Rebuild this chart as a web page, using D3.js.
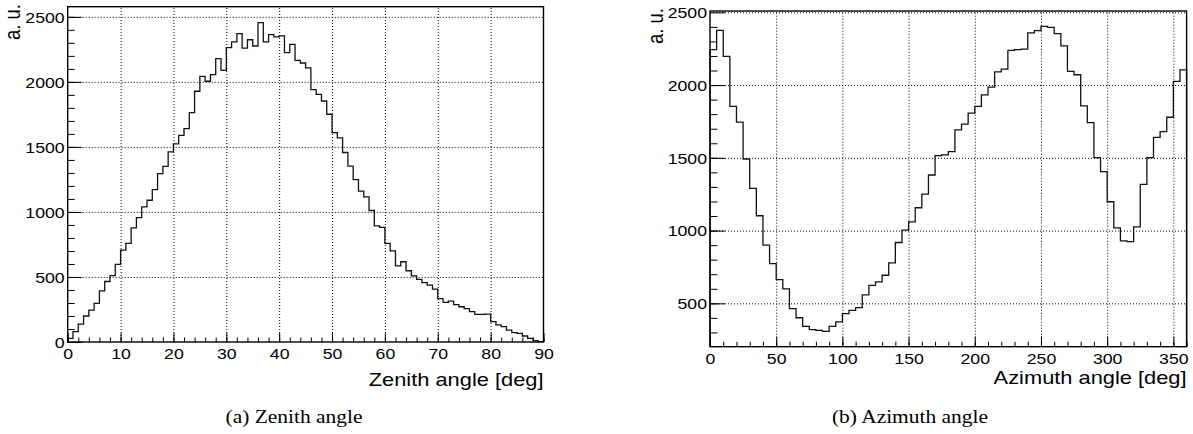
<!DOCTYPE html>
<html>
<head>
<meta charset="utf-8">
<script src="https://cdn.jsdelivr.net/npm/d3@7"></script>
<style>
  body { margin: 0; background: #fff; }
  svg { display: block; }
</style>
</head>
<body>
<script>
// histogram contents
var zenithCounts = [28, 80, 137, 200, 245, 297, 393, 465, 510, 597,
  707, 758, 878, 957, 1039, 1090, 1172, 1295, 1350, 1462,
  1524, 1588, 1641, 1764, 1928, 2043, 2005, 2056, 2179, 2089,
  2263, 2307, 2371, 2260, 2324, 2276, 2455, 2307, 2364, 2346,
  2353, 2225, 2289, 2166, 2145, 2107, 1940, 1904, 1853, 1751,
  1610, 1569, 1457, 1352, 1249, 1160, 1116, 1011, 893, 881,
  758, 701, 586, 617, 548, 509, 481, 456, 438, 407,
  333, 305, 315, 287, 271, 256, 233, 212, 212, 215,
  156, 131, 118, 92, 72, 67, 46, 28, 10, 3];
var azimuthCounts = [2243, 2376, 2197, 1853, 1745, 1492, 1290, 1102, 900, 773,
  663, 599, 463, 401, 342, 319, 314, 307, 342, 372,
  429, 452, 470, 558, 624, 647, 693, 778, 918, 1003,
  1060, 1157, 1251, 1382, 1515, 1520, 1543, 1692, 1731, 1807,
  1853, 1933, 1986, 2091, 2110, 2238, 2243, 2247, 2358, 2374,
  2404, 2397, 2353, 2270, 2094, 2071, 1857, 1742, 1501, 1405,
  1198, 1019, 929, 924, 1026, 1318, 1501, 1641, 1680, 1779,
  2025, 2105];
var zenithXTicks = [0, 10, 20, 30, 40, 50, 60, 70, 80, 90];
var zenithYTicks = [0, 500, 1000, 1500, 2000, 2500];
var azimuthXTicks = [0, 50, 100, 150, 200, 250, 300, 350];
var azimuthYTicks = [500, 1000, 1500, 2000, 2500];

var width = 1193,
    height = 434;
var stretch = 1.18;
var sans = 'Liberation Sans, Arial, sans-serif';

var svg = d3.select('body')
  .append('svg')
  .attr('width', width)
  .attr('height', height);

function widen(sel, k) {
  sel.each(function() {
    var len = this.getComputedTextLength();
    d3.select(this).attr('textLength', len * k).attr('lengthAdjust', 'spacingAndGlyphs');
  });
}

function drawHist(opt) {
  var x = d3.scaleLinear().domain(opt.xDomain).range(opt.xRange);
  var y = d3.scaleLinear().domain(opt.yDomain).range(opt.yRange);
  var g = svg.append('g');
  var x0 = opt.xRange[0], x1 = opt.xRange[1], yb = opt.yRange[0], yt = opt.yRange[1];

  // dotted grid
  g.append('g')
    .attr('transform', 'translate(0,' + yb + ')')
    .call(d3.axisBottom(x).tickValues(opt.xTicks.filter(function(t) { return t > opt.xDomain[0] && t < opt.xDomain[1]; }))
      .tickSize(-(yb - yt)).tickFormat(''))
    .call(function(a) { a.select('.domain').remove(); })
    .selectAll('line')
    .attr('stroke', '#000').attr('stroke-dasharray', '1,2').attr('stroke-width', 1);
  g.append('g')
    .attr('transform', 'translate(' + x0 + ',0)')
    .call(d3.axisLeft(y).tickValues(opt.yTicks.filter(function(t) { return t > opt.yDomain[0]; }))
      .tickSize(-(x1 - x0)).tickFormat(''))
    .call(function(a) { a.select('.domain').remove(); })
    .selectAll('line')
    .attr('stroke', '#000').attr('stroke-dasharray', '1,2').attr('stroke-width', 1);

  // histogram outline
  var w = (opt.xDomain[1] - opt.xDomain[0]) / opt.counts.length;
  var pts = [[opt.xDomain[0], opt.yDomain[0]]];
  opt.counts.forEach(function(v, i) { pts.push([opt.xDomain[0] + i * w, v]); });
  pts.push([opt.xDomain[1], opt.counts[opt.counts.length - 1]]);
  pts.push([opt.xDomain[1], opt.yDomain[0]]);
  g.append('path')
    .attr('d', d3.line().x(function(d) { return x(d[0]); }).y(function(d) { return y(d[1]); }).curve(d3.curveStepAfter)(pts))
    .attr('fill', 'none')
    .attr('stroke', '#111')
    .attr('stroke-width', 1.3);

  // minor ticks
  g.append('g')
    .attr('transform', 'translate(0,' + yb + ')')
    .call(d3.axisBottom(x).tickValues(d3.range(opt.xDomain[0], opt.xDomain[1] + 1e-9, opt.xMinor)).tickSize(-opt.xTickLen / 2).tickFormat(''))
    .call(function(a) { a.select('.domain').remove(); })
    .selectAll('line').attr('stroke', '#000');
  g.append('g')
    .attr('transform', 'translate(' + x0 + ',0)')
    .call(d3.axisLeft(y).tickValues(d3.range(Math.ceil(opt.yDomain[0] / opt.yMinor) * opt.yMinor, opt.yDomain[1] - 20, opt.yMinor)).tickSize(-opt.yTickLen / 2).tickFormat(''))
    .call(function(a) { a.select('.domain').remove(); })
    .selectAll('line').attr('stroke', '#000');

  // major ticks with labels
  var xa = g.append('g')
    .attr('transform', 'translate(0,' + yb + ')')
    .call(d3.axisBottom(x).tickValues(opt.xTicks).tickFormat(d3.format('d'))
      .tickSizeInner(-opt.xTickLen).tickSizeOuter(0).tickPadding(0));
  xa.select('.domain').remove();
  xa.selectAll('line').attr('stroke', '#000');
  xa.selectAll('text')
    .attr('y', opt.xLabelDy).attr('dy', 0)
    .attr('font-family', sans).attr('font-size', 15).attr('fill', '#000')
    .call(widen, stretch);

  var ya = g.append('g')
    .attr('transform', 'translate(' + x0 + ',0)')
    .call(d3.axisLeft(y).tickValues(opt.yTicks).tickFormat(d3.format('d'))
      .tickSizeInner(-opt.yTickLen).tickSizeOuter(0).tickPadding(0));
  ya.select('.domain').remove();
  ya.selectAll('line').attr('stroke', '#000');
  ya.selectAll('text')
    .attr('x', -3).attr('dy', '0.36em')
    .attr('font-family', sans).attr('font-size', 15).attr('fill', '#000')
    .call(widen, stretch);

  // frame
  g.append('rect')
    .attr('x', x0).attr('y', yt)
    .attr('width', x1 - x0).attr('height', yb - yt)
    .attr('fill', 'none').attr('stroke', '#000').attr('stroke-width', 1.4);

  // axis titles
  g.append('text')
    .attr('x', x1).attr('y', opt.titleY)
    .attr('text-anchor', 'end')
    .attr('font-family', sans).attr('font-size', 18.5)
    .text(opt.xTitle)
    .call(widen, stretch);
  g.append('text')
    .attr('transform', 'translate(' + opt.yTitleX + ',' + opt.yTitleTop + ') rotate(-90) scale(1,' + stretch + ')')
    .attr('text-anchor', 'end')
    .attr('font-family', sans).attr('font-size', 18.5)
    .text('a. u.');

  // caption
  g.append('text')
    .attr('x', opt.capX).attr('y', 423)
    .attr('text-anchor', 'middle')
    .attr('font-family', 'Liberation Serif, Times New Roman, serif').attr('font-size', 19.5)
    .text(opt.caption)
    .call(widen, 1.1);
}

drawHist({
  counts: zenithCounts,
  xDomain: [0, 90], xRange: [67.7, 543.5],
  yDomain: [0, 2578], yRange: [342, 6.7],
  xTicks: zenithXTicks, yTicks: zenithYTicks,
  xMinor: 2, yMinor: 100,
  xTickLen: 9, yTickLen: 14,
  xLabelDy: 17,
  xTitle: 'Zenith angle [deg]', titleY: 386,
  yTitleX: 20, yTitleTop: 4,
  caption: '(a) Zenith angle', capX: 294
});

drawHist({
  counts: azimuthCounts,
  xDomain: [0, 360], xRange: [710, 1186.6],
  yDomain: [202, 2509], yRange: [346.7, 11],
  xTicks: azimuthXTicks, yTicks: azimuthYTicks,
  xMinor: 10, yMinor: 100,
  xTickLen: 10, yTickLen: 15,
  xLabelDy: 17,
  xTitle: 'Azimuth angle [deg]', titleY: 384,
  yTitleX: 663, yTitleTop: 8,
  caption: '(b) Azimuth angle', capX: 910
});
</script>
</body>
</html>
